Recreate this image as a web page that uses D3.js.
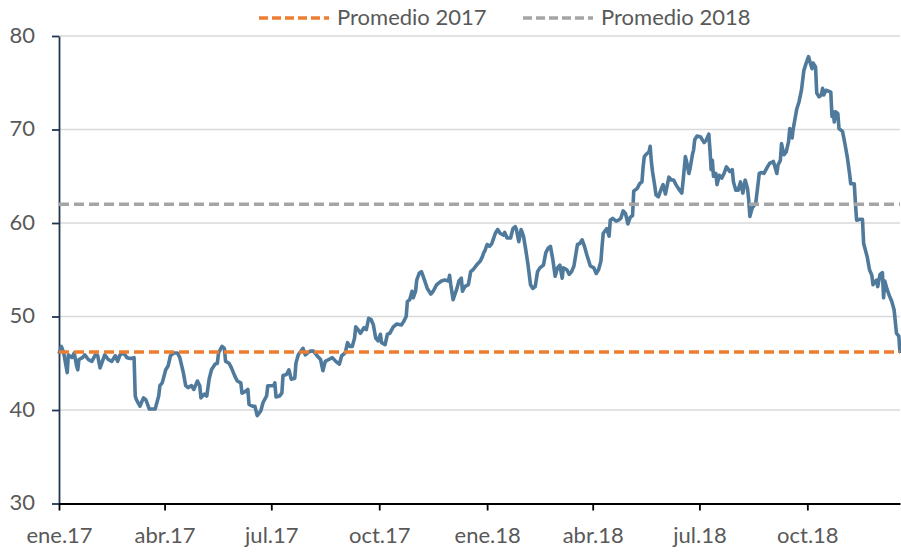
<!DOCTYPE html>
<html>
<head>
<meta charset="utf-8">
<script src="https://cdn.jsdelivr.net/npm/d3@7"></script>
<style>
  body { margin: 0; background: #fff; }
  text { font-family: Lato, "Liberation Sans", sans-serif; fill: #595959; }
</style>
</head>
<body>
<svg></svg>
<script>
// precio diario (lectura aproximada del grafico)
var serie = [
  ["2017-01-01",46.0],["2017-01-03",46.8],["2017-01-05",46.1],["2017-01-07",44.7],["2017-01-08",44.0],
  ["2017-01-09",45.9],["2017-01-12",45.6],["2017-01-14",46.1],["2017-01-16",44.7],["2017-01-17",44.3],
  ["2017-01-18",45.4],["2017-01-21",45.6],["2017-01-23",45.9],["2017-01-26",45.4],["2017-01-29",45.2],
  ["2017-02-01",45.9],["2017-02-03",45.8],["2017-02-05",44.5],["2017-02-07",45.2],["2017-02-09",45.9],
  ["2017-02-12",45.4],["2017-02-15",45.2],["2017-02-18",45.8],["2017-02-20",45.2],["2017-02-22",45.9],
  ["2017-02-25",46.1],["2017-02-28",45.6],["2017-03-03",45.5],["2017-03-06",45.6],["2017-03-07",41.5],
  ["2017-03-08",41.1],["2017-03-11",40.4],["2017-03-14",41.3],["2017-03-16",41.1],["2017-03-19",40.1],
  ["2017-03-24",40.1],["2017-03-27",41.5],["2017-03-28",42.6],["2017-03-30",42.9],["2017-04-02",44.3],
  ["2017-04-04",44.7],["2017-04-06",45.8],["2017-04-09",46.1],["2017-04-12",46.1],["2017-04-14",45.6],
  ["2017-04-17",44.0],["2017-04-19",42.6],["2017-04-21",42.4],["2017-04-24",42.6],["2017-04-26",42.2],
  ["2017-04-29",43.1],["2017-05-01",42.6],["2017-05-02",41.3],["2017-05-05",41.7],["2017-05-07",41.5],
  ["2017-05-09",43.3],["2017-05-11",44.3],["2017-05-14",44.9],["2017-05-16",45.0],["2017-05-17",46.1],
  ["2017-05-20",46.8],["2017-05-22",46.6],["2017-05-23",45.2],["2017-05-26",45.0],["2017-05-28",44.5],
  ["2017-05-31",43.6],["2017-06-02",43.1],["2017-06-05",42.9],["2017-06-06",41.8],["2017-06-09",42.0],
  ["2017-06-11",42.2],["2017-06-12",40.6],["2017-06-15",40.4],["2017-06-17",40.4],["2017-06-19",39.4],
  ["2017-06-22",39.9],["2017-06-24",40.8],["2017-06-27",41.5],["2017-06-28",42.6],["2017-07-03",42.6],
  ["2017-07-04",42.9],["2017-07-05",41.4],["2017-07-08",41.5],["2017-07-10",41.8],["2017-07-11",43.7],
  ["2017-07-14",43.8],["2017-07-16",44.3],["2017-07-18",43.3],["2017-07-21",43.4],["2017-07-22",45.0],
  ["2017-07-24",45.9],["2017-07-25",46.1],["2017-07-28",46.6],["2017-07-30",45.9],["2017-08-03",46.3],
  ["2017-08-06",46.3],["2017-08-09",45.8],["2017-08-12",45.4],["2017-08-14",44.2],["2017-08-16",45.2],
  ["2017-08-19",45.4],["2017-08-22",45.6],["2017-08-25",45.2],["2017-08-28",44.9],["2017-08-30",45.8],
  ["2017-09-02",46.1],["2017-09-04",47.2],["2017-09-06",46.8],["2017-09-08",46.8],["2017-09-10",47.7],
  ["2017-09-11",48.9],["2017-09-13",48.6],["2017-09-15",48.2],["2017-09-18",48.8],["2017-09-20",48.6],
  ["2017-09-22",49.8],["2017-09-24",49.7],["2017-09-26",49.1],["2017-09-28",47.7],["2017-09-30",47.4],
  ["2017-10-02",48.1],["2017-10-03",47.2],["2017-10-06",47.0],["2017-10-08",48.1],["2017-10-10",48.2],
  ["2017-10-13",48.9],["2017-10-16",49.2],["2017-10-20",49.1],["2017-10-22",49.5],["2017-10-24",50.0],
  ["2017-10-25",51.6],["2017-10-27",51.8],["2017-10-29",52.7],["2017-10-30",52.0],["2017-11-01",52.7],
  ["2017-11-02",53.9],["2017-11-04",54.6],["2017-11-06",54.8],["2017-11-08",54.1],["2017-11-11",53.0],
  ["2017-11-14",52.4],["2017-11-16",52.7],["2017-11-19",53.4],["2017-11-21",53.6],["2017-11-23",53.8],
  ["2017-11-26",53.9],["2017-11-29",53.8],["2017-11-30",54.4],["2017-12-01",53.4],["2017-12-03",51.8],
  ["2017-12-06",52.9],["2017-12-08",53.8],["2017-12-10",54.1],["2017-12-11",52.7],["2017-12-13",53.2],
  ["2017-12-16",53.4],["2017-12-18",54.8],["2017-12-20",55.0],["2017-12-23",55.5],["2017-12-26",55.9],
  ["2017-12-28",56.4],["2017-12-29",56.8],["2017-12-30",57.0],
  ["2018-01-01",57.7],["2018-01-03",57.5],["2018-01-05",57.8],["2018-01-08",58.9],["2018-01-10",59.3],
  ["2018-01-12",58.9],["2018-01-15",58.7],["2018-01-16",59.0],["2018-01-18",58.4],["2018-01-21",58.4],
  ["2018-01-23",59.4],["2018-01-25",59.6],["2018-01-26",59.3],["2018-01-28",58.0],["2018-01-30",59.3],
  ["2018-02-01",58.6],["2018-02-03",57.1],["2018-02-05",55.4],["2018-02-07",53.4],["2018-02-09",53.0],
  ["2018-02-11",53.2],["2018-02-13",54.8],["2018-02-15",55.2],["2018-02-18",55.5],["2018-02-20",56.8],
  ["2018-02-22",57.3],["2018-02-24",57.5],["2018-02-26",56.1],["2018-02-28",54.3],["2018-03-02",55.2],
  ["2018-03-04",55.5],["2018-03-06",54.1],["2018-03-07",55.2],["2018-03-10",55.0],["2018-03-12",54.5],
  ["2018-03-14",54.8],["2018-03-16",55.4],["2018-03-19",57.7],["2018-03-21",57.8],["2018-03-23",58.2],
  ["2018-03-25",57.5],["2018-03-27",56.6],["2018-03-30",55.4],["2018-04-02",55.2],["2018-04-04",54.6],
  ["2018-04-06",55.0],["2018-04-08",55.9],["2018-04-09",57.5],["2018-04-10",58.9],["2018-04-13",59.4],
  ["2018-04-15",58.6],["2018-04-16",60.3],["2018-04-18",60.5],["2018-04-21",60.2],["2018-04-23",60.3],
  ["2018-04-25",60.5],["2018-04-27",61.3],["2018-04-29",61.0],["2018-05-01",59.9],["2018-05-03",60.6],
  ["2018-05-05",60.8],["2018-05-06",63.4],["2018-05-09",63.7],["2018-05-11",64.2],["2018-05-13",64.4],
  ["2018-05-14",66.0],["2018-05-15",67.1],["2018-05-17",67.4],["2018-05-19",67.6],["2018-05-20",68.2],
  ["2018-05-21",66.6],["2018-05-22",65.5],["2018-05-24",63.9],["2018-05-25",63.0],["2018-05-27",62.8],
  ["2018-05-29",63.5],["2018-05-31",64.1],["2018-06-02",63.1],["2018-06-05",64.9],["2018-06-07",64.6],
  ["2018-06-09",64.6],["2018-06-11",64.1],["2018-06-13",63.7],["2018-06-16",63.2],["2018-06-17",64.4],
  ["2018-06-19",67.1],["2018-06-20",66.6],["2018-06-22",65.3],["2018-06-23",65.8],["2018-06-25",67.3],
  ["2018-06-26",67.8],["2018-06-27",68.9],["2018-06-29",69.3],["2018-07-02",69.2],["2018-07-03",69.0],
  ["2018-07-05",68.6],["2018-07-07",68.9],["2018-07-09",69.5],["2018-07-10",67.8],["2018-07-11",65.7],
  ["2018-07-12",66.7],["2018-07-13",65.0],["2018-07-15",65.3],["2018-07-16",64.1],["2018-07-18",65.1],
  ["2018-07-20",64.8],["2018-07-22",65.3],["2018-07-24",66.0],["2018-07-27",65.5],["2018-07-29",65.7],
  ["2018-07-30",64.4],["2018-08-01",63.5],["2018-08-03",63.5],["2018-08-05",64.4],["2018-08-07",63.2],
  ["2018-08-09",64.6],["2018-08-11",63.7],["2018-08-12",62.5],["2018-08-13",60.7],["2018-08-15",61.6],
  ["2018-08-18",62.1],["2018-08-20",64.2],["2018-08-21",65.3],["2018-08-23",65.4],["2018-08-25",65.3],
  ["2018-08-28",66.0],["2018-08-30",66.4],["2018-09-01",66.5],["2018-09-02",66.6],["2018-09-05",65.3],
  ["2018-09-06",66.2],["2018-09-08",66.7],["2018-09-09",68.5],["2018-09-11",67.3],["2018-09-13",67.6],
  ["2018-09-15",68.7],["2018-09-16",70.1],["2018-09-18",69.1],["2018-09-19",70.1],["2018-09-22",72.2],
  ["2018-09-24",73.0],["2018-09-26",74.2],["2018-09-28",76.3],["2018-09-30",77.1],["2018-10-02",77.8],
  ["2018-10-04",76.9],["2018-10-05",76.5],["2018-10-06",77.1],["2018-10-08",76.7],["2018-10-09",73.9],
  ["2018-10-11",73.5],["2018-10-13",73.7],["2018-10-14",74.4],["2018-10-15",73.7],["2018-10-17",74.2],
  ["2018-10-19",74.1],["2018-10-21",74.0],["2018-10-22",71.4],["2018-10-23",71.9],["2018-10-24",70.8],
  ["2018-10-25",71.9],["2018-10-27",71.7],["2018-10-28",70.1],["2018-10-31",69.8],["2018-11-02",68.5],
  ["2018-11-04",67.1],["2018-11-06",65.3],["2018-11-07",64.2],["2018-11-10",64.2],["2018-11-11",62.1],
  ["2018-11-12",60.3],["2018-11-15",60.4],["2018-11-17",60.4],["2018-11-18",57.8],["2018-11-21",56.4],
  ["2018-11-23",55.0],["2018-11-25",54.4],["2018-11-26",53.4],["2018-11-29",53.9],["2018-11-30",53.2],
  ["2018-12-02",54.5],["2018-12-04",54.7],["2018-12-05",52.0],["2018-12-06",53.8],["2018-12-08",52.9],
  ["2018-12-10",52.2],["2018-12-12",51.6],["2018-12-14",50.7],["2018-12-16",48.2],["2018-12-18",47.9],
  ["2018-12-19",46.1]
];

var promedioNombres = ["Promedio 2017", "Promedio 2018"];
var promedioValores = [46.2, 62.0];

var yTicks = [30, 40, 50, 60, 70, 80];
var xTickFechas = ["2017-01-01","2017-04-01","2017-07-01","2017-10-01",
                   "2018-01-01","2018-04-01","2018-07-01","2018-10-01"];
var xTickLabels = ["ene.17","abr.17","jul.17","oct.17","ene.18","abr.18","jul.18","oct.18"];
var rangoFechas = ["2017-01-01", "2018-12-19"];

var colorSerie = "#507a9b";
var colorPromedios = ["#ed7d31", "#a5a5a5"];

var parseDate = d3.timeParse("%Y-%m-%d");

var W = 901, H = 553;
var margin = {left:59, right:1, top:36, bottom:49};
var width = W - margin.left - margin.right;
var height = H - margin.top - margin.bottom - 0.5;

var svg = d3.select("svg")
  .attr("width", W)
  .attr("height", H);

var x = d3.scaleTime()
  .domain(rangoFechas.map(parseDate))
  .range([0, width]);
var y = d3.scaleLinear()
  .domain([30, 80])
  .range([height, 0]);

var g = svg.append("g")
  .attr("transform", "translate(" + margin.left + "," + margin.top + ")");

// lineas de grilla
g.append("g").selectAll("line")
  .data(yTicks.slice(1))
  .join("line")
  .attr("x1", 0).attr("x2", width)
  .attr("y1", function(d){ return y(d); })
  .attr("y2", function(d){ return y(d); })
  .attr("stroke", "#d9d9d9")
  .attr("stroke-width", 1.5);

// eje y
var yAxis = d3.axisLeft(y)
  .tickValues(yTicks)
  .tickSize(7)
  .tickSizeOuter(0)
  .tickPadding(17);
var gy = g.append("g").attr("class", "y-axis").call(yAxis);
gy.select(".domain").attr("stroke", "#1f3552").attr("stroke-width", 1.8);
gy.selectAll(".tick line").attr("stroke", "#1f3552").attr("stroke-width", 1.8);
gy.selectAll(".tick text")
  .attr("font-size", 22)
  .attr("fill", "#595959")
  .attr("dy", "0.28em")
  .style("font-family", "Lato, 'Liberation Sans', sans-serif");

// eje x
var xAxis = d3.axisBottom(x)
  .tickValues(xTickFechas.map(parseDate))
  .tickFormat(function(d, i){ return xTickLabels[i]; })
  .tickSize(7)
  .tickSizeOuter(0)
  .tickPadding(17);
var gx = g.append("g")
  .attr("class", "x-axis")
  .attr("transform", "translate(0," + height + ")")
  .call(xAxis);
gx.select(".domain").attr("stroke", "#000").attr("stroke-width", 1.8);
gx.selectAll(".tick line").attr("stroke", "#000").attr("stroke-width", 1.8);
gx.selectAll(".tick text")
  .attr("font-size", 22)
  .attr("fill", "#595959")
  .style("font-family", "Lato, 'Liberation Sans', sans-serif");

// serie
var line = d3.line()
  .x(function(d){ return x(parseDate(d[0])); })
  .y(function(d){ return y(d[1]); });

g.append("path")
  .attr("d", line(serie))
  .attr("fill", "none")
  .attr("stroke", colorSerie)
  .attr("stroke-width", 3.6)
  .attr("stroke-linejoin", "round");

// promedios
g.append("g").selectAll("line")
  .data(promedioValores)
  .join("line")
  .attr("x1", 0).attr("x2", width)
  .attr("y1", function(d){ return y(d); })
  .attr("y2", function(d){ return y(d); })
  .attr("stroke", function(d, i){ return colorPromedios[i]; })
  .attr("stroke-width", 3.5)
  .attr("stroke-dasharray", "10,5");

// leyenda
var legendX = [259, 523];
var legend = svg.append("g").selectAll("g")
  .data(promedioNombres)
  .join("g")
  .attr("transform", function(d, i){ return "translate(" + legendX[i] + ",18)"; });
legend.append("line")
  .attr("x1", 0).attr("x2", 70)
  .attr("stroke", function(d, i){ return colorPromedios[i]; })
  .attr("stroke-width", 3.5)
  .attr("stroke-dasharray", "9,4");
legend.append("text")
  .attr("x", 78)
  .attr("y", 7)
  .attr("font-size", 22)
  .text(function(d){ return d; });
</script>
</body>
</html>
